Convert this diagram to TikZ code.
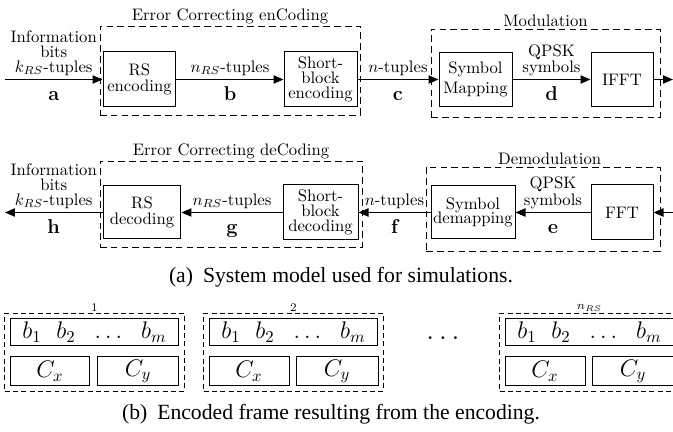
\documentclass[tikz,border=0pt]{standalone}
\usepackage{fontspec}
\newfontfamily\capfont{Liberation Serif}
\usepackage{tikz}
\usetikzlibrary{positioning, arrows.meta, backgrounds, fit}

\tikzset{
  blk/.style={draw, line width=0.6pt, align=center, inner sep=1pt},
  zone/.style={draw, dash pattern=on 4pt off 2.5pt, line width=0.5pt, inner sep=0pt},
  framebox/.style={draw, dash pattern=on 3pt off 2pt, line width=0.5pt, inner sep=3pt},
  cell/.style={draw, line width=0.6pt, font=\Large, inner sep=0pt},
  arrow/.style={-{Triangle[length=6pt, width=5pt]}, line width=0.7pt},
  ttl/.style={inner sep=1pt},
  txt/.style={align=center, inner sep=2pt},
  lbl/.style={font=\large\bfseries, inner sep=2pt, text height=8pt, text depth=0pt},
  capt/.style={font=\capfont\fontsize{13}{15}\selectfont},
}

\begin{document}
\begin{tikzpicture}[x=0.6pt, y=-0.6pt]
  \useasboundingbox (0,0) rectangle (673,432);

  % --- transmitter chain
  \node[blk, minimum width=43.8pt, minimum height=33pt] (rsenc) at (139.5,79.5)
    {RS\\[-2.5pt]encoding};
  \node[blk, minimum width=43.8pt, minimum height=33pt] (sbenc) at (320.5,79.5)
    {Short-\\[-3pt]block\\[-3pt]encoding};
  \node[blk, minimum width=43.8pt, minimum height=32.4pt] (symmap) at (475.5,79.5)
    {Symbol\\Mapping};
  \node[blk, minimum width=37.2pt, minimum height=32.4pt] (ifft) at (622,79.5)
    {IFFT};

  \coordinate (src)  at (5,79.5);
  \coordinate (sink) at (673,79.5);

  \draw[arrow] (src) -- node[txt, above] (inlbl) {Information\\[-3pt]bits\\[-3pt]$k_{RS}$-tuples}
                        node[lbl, below=2pt] (la) {a} (rsenc);
  \draw[arrow] (rsenc) -- node[txt, above] (rsout) {$n_{RS}$-tuples}
                          node[lbl, below=2pt] (lb) {b} (sbenc);
  \draw[arrow] (sbenc) -- node[txt, above] (sbout) {$n$-tuples}
                          node[lbl, below=2pt] (lc) {c} (symmap);
  \draw[arrow] (symmap) -- node[txt, above] (qpsktx) {QPSK\\[-2.4pt]symbols}
                           node[lbl, below=2pt] (ld) {d} (ifft);
  \draw[arrow] (ifft) -- (sink);

  % --- receiver chain
  \node[blk, minimum width=46.8pt, minimum height=31.8pt] (rsdec) at (142,212.5)
    {RS\\[-2.5pt]decoding};
  \node[blk, minimum width=45pt, minimum height=33pt] (sbdec) at (320.5,212.5)
    {Short-\\[-3pt]block\\[-3pt]decoding};
  \node[blk, minimum width=50.4pt, minimum height=31.8pt] (symdem) at (473,212.5)
    {Symbol\\[-3.4pt]demapping};
  \node[blk, minimum width=37.2pt, minimum height=33pt] (fft) at (622,212.5)
    {FFT};

  \coordinate (rx)  at (673,212.5);
  \coordinate (dst) at (5,212.5);

  \draw[arrow] (rx) -- (fft);
  \draw[arrow] (fft) -- node[txt, above] (qpskrx) {QPSK\\[-2pt]symbols}
                        node[lbl, below=2pt] (le) {e} (symdem);
  \draw[arrow] (symdem) -- node[txt, above] (demout) {$n$-tuples}
                           node[lbl, below=2pt] (lf) {f} (sbdec);
  \draw[arrow] (sbdec) -- node[txt, above] (sbdout) {$n_{RS}$-tuples}
                          node[lbl, below=2pt] (lg) {g} (rsdec);
  \draw[arrow] (rsdec) -- node[txt, above] (outlbl) {Information\\[-3pt]bits\\[-3pt]$k_{RS}$-tuples}
                          node[lbl, below=2pt] (lh) {h} (dst);

  \begin{scope}[on background layer]
    \node[zone, fit={(100,26) (360,115)},
          label={[ttl]above:Error Correcting enCoding}] (enczone) {};
    \node[zone, fit={(431,29) (660,117)},
          label={[ttl]above:Modulation}] (modzone) {};
    \node[zone, fit={(100,161) (362,247)},
          label={[ttl]above:Error Correcting deCoding}] (deczone) {};
    \node[zone, fit={(426,167) (660,251)},
          label={[ttl, xshift=4pt]above:Demodulation}] (demzone) {};
  \end{scope}

  \node[capt] (capa) at (341,277) {(a)\hspace{6pt}System model used for simulations.};

  % --- encoded frames
  \foreach \fx/\fl [count=\k] in {5/1, 204/2, 500/{$n_{RS}$}} {
    \node[cell, minimum width=101.4pt, minimum height=16pt] (bits\k) at (\fx+89.5,332.3)
      {$b_1\hspace{9pt}b_2\hspace{9pt}\ldots\hspace{9pt}b_m$};
    \node[cell, minimum width=48pt, minimum height=17.6pt] (cx\k) at (\fx+45,371.3) {$C_x$};
    \node[cell, minimum width=49.2pt, minimum height=17.6pt] (cy\k) at (\fx+133,371.3) {$C_y$};
    \node[framebox, fit=(bits\k)(cx\k)(cy\k),
          label={[font=\scriptsize, inner sep=1pt]above:\fl}] (slot\k) {};
  }
  \node[font=\LARGE] (gap) at (443,338) {$\ldots$};

  \node[capt] (capb) at (331,414) {(b)\hspace{6pt}Encoded frame resulting from the encoding.};
\end{tikzpicture}
\end{document}
